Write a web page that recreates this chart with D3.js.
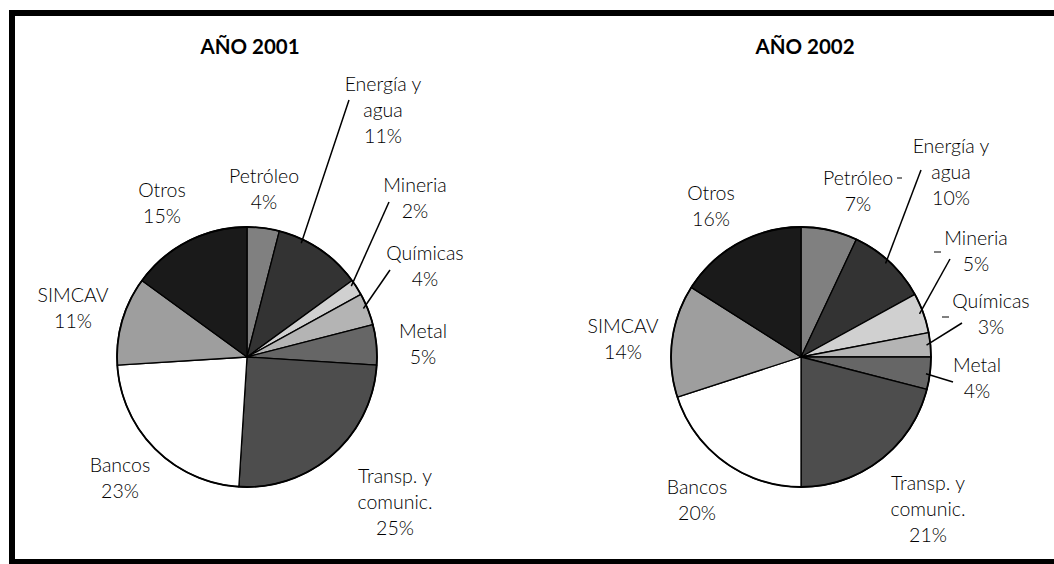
<!DOCTYPE html>
<html>
<head>
<meta charset="utf-8">
<script src="https://cdn.jsdelivr.net/npm/d3@7"></script>
<style>
  body { margin: 0; background: #fff; }
  svg text { font-family: Lato, "Open Sans", sans-serif; fill: #000; }
</style>
</head>
<body>
<div id="chart"></div>
<script>
// sectors, clockwise from 12 o'clock
var categories = ["Petróleo", "Energía y agua", "Mineria", "Químicas", "Metal",
                  "Transp. y comunic.", "Bancos", "SIMCAV", "Otros"];
var labelLines = [["Petróleo"], ["Energía y", "agua"], ["Mineria"], ["Químicas"], ["Metal"],
                  ["Transp. y", "comunic."], ["Bancos"], ["SIMCAV"], ["Otros"]];
var values2001 = [4, 11, 2, 4, 5, 25, 23, 11, 15];
var values2002 = [7, 10, 5, 3, 4, 21, 20, 14, 16];
var fills = ["#808080", "#333333", "#d0d0d0", "#b4b4b4", "#666666",
             "#4d4d4d", "#ffffff", "#9e9e9e", "#1a1a1a"];

// label placement relative to the pie centre (dx, dy of first baseline)
// leader: [sx, sy, fraction along slice angle]
var layout2001 = [
    { dx: 17, dy: -174 },
    { dx: 136, dy: -266, leader: [102, -257, 0.28] },
    { dx: 168, dy: -165, leader: [142, -155, 0.25] },
    { dx: 178, dy: -97, leader: [143, -87, 0.43] },
    { dx: 176, dy: -19 },
    { dx: 148, dy: 126 },
    { dx: -127, dy: 115 },
    { dx: -174, dy: -55 },
    { dx: -85, dy: -160 }
];
var layout2002 = [
    { dx: 57, dy: -172, dash: [96, 101, -179] },
    { dx: 150, dy: -204, leader: [120, -187, 0.47] },
    { dx: 175, dy: -112, leader: [149, -98, 0.49], dash: [133, 140, -105] },
    { dx: 190, dy: -49, leader: [161, -34, 0.5], dash: [141, 148, -40] },
    { dx: 176, dy: 15, leader: [152, 25, 0.53] },
    { dx: 127, dy: 133 },
    { dx: -104, dy: 137 },
    { dx: -178, dy: -24 },
    { dx: -90, dy: -157 }
];

var width = 1054, height = 564;
var radius = 130;
var lineH = 26;

var svg = d3.select("#chart")
    .append("svg")
    .attr("width", width)
    .attr("height", height);

svg.append("rect")
    .attr("x", 12)
    .attr("y", 13)
    .attr("width", 1060)
    .attr("height", 549)
    .attr("fill", "#fff")
    .attr("stroke", "#000")
    .attr("stroke-width", 6);

var pie = d3.pie().sort(null).value(function (d) { return d; });
var arc = d3.arc().innerRadius(0).outerRadius(radius);

function drawPie(values, layout, cx, cy, title, titleX) {
    var g = svg.append("g")
        .attr("transform", "translate(" + cx + "," + cy + ")");

    svg.append("text")
        .attr("x", titleX)
        .attr("y", 54)
        .attr("text-anchor", "middle")
        .style("font-size", "20.5px")
        .style("font-weight", "bold")
        .text(title);

    var arcs = pie(values);

    g.selectAll(".slice")
        .data(arcs)
        .enter().append("path")
        .attr("class", "slice")
        .attr("d", arc)
        .attr("fill", function (d, i) { return fills[i]; })
        .attr("stroke", "#000")
        .attr("stroke-width", 1.3)
        .attr("stroke-linejoin", "round");

    g.append("circle")
        .attr("r", radius)
        .attr("fill", "none")
        .attr("stroke", "#000")
        .attr("stroke-width", 1.8);

    arcs.forEach(function (d, i) {
        var L = layout[i];
        var lines = labelLines[i].concat([values[i] + "%"]);
        var t = g.append("text")
            .attr("text-anchor", "middle")
            .style("font-size", "19.5px")
            .style("font-weight", 300);
        lines.forEach(function (s, k) {
            t.append("tspan")
                .attr("x", L.dx)
                .attr("y", L.dy + k * lineH)
                .text(s);
        });

        if (L.leader) {
            var a = d.startAngle + L.leader[2] * (d.endAngle - d.startAngle);
            var r = radius * 0.97;
            g.append("line")
                .attr("x1", L.leader[0])
                .attr("y1", L.leader[1])
                .attr("x2", Math.sin(a) * r)
                .attr("y2", -Math.cos(a) * r)
                .attr("stroke", "#000")
                .attr("stroke-width", 1.5);
        }
        if (L.dash) {
            g.append("line")
                .attr("x1", L.dash[0])
                .attr("x2", L.dash[1])
                .attr("y1", L.dash[2])
                .attr("y2", L.dash[2])
                .attr("stroke", "#000")
                .attr("stroke-width", 1);
        }
    });
}

drawPie(values2001, layout2001, 247, 357, "AÑO 2001", 250);
drawPie(values2002, layout2002, 801, 357, "AÑO 2002", 805);
</script>
</body>
</html>
